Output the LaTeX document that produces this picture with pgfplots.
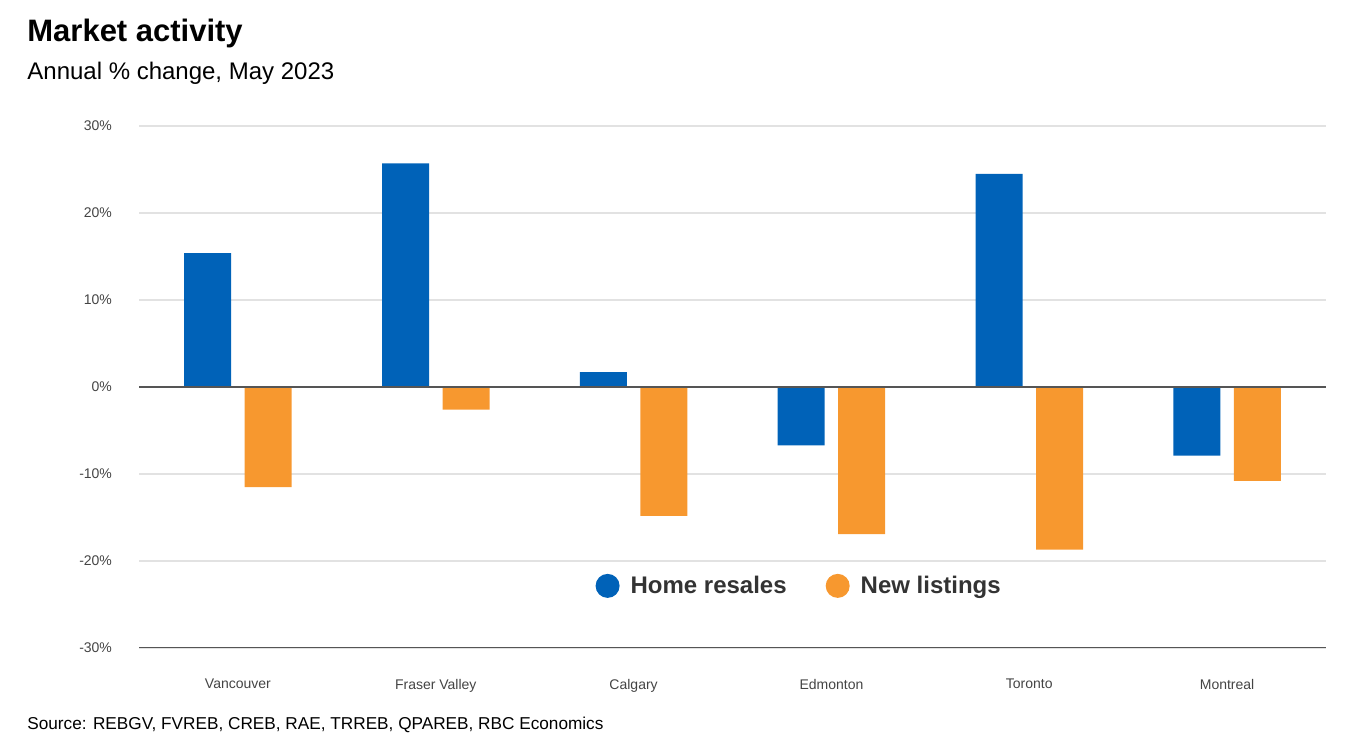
\documentclass[border=0pt]{standalone}
\usepackage{pgfplots}
\pgfplotsset{compat=1.18}
\usepackage{fontspec}
\setmainfont{Liberation Sans}
\definecolor{resale}{HTML}{0062B8}
\definecolor{listing}{HTML}{F7982F}
\definecolor{gridc}{HTML}{E2E2E2}
\definecolor{axisc}{HTML}{555555}
\definecolor{tickc}{HTML}{444444}
\definecolor{legc}{HTML}{333333}
\begin{document}
\begin{tikzpicture}
\useasboundingbox (0pt,0pt) rectangle (682pt,374.5pt);
\node[anchor=base west, font=\bfseries\fontsize{15.5}{18}\selectfont, inner sep=0pt] at (13.5pt,353.5pt) {Market activity};
\node[anchor=base west, font=\fontsize{12}{14}\selectfont, inner sep=0pt] at (13.5pt,334.5pt) {Annual \% change, May 2023};
\node[anchor=base west, font=\fontsize{8.6}{10}\selectfont, inner sep=0pt] at (13.5pt,9.5pt) {Source: REBGV, FVREB, CREB, RAE, TRREB, QPAREB, RBC Economics};
\begin{axis}[
  at={(69.5pt,50.5pt)}, anchor=south west,
  scale only axis, width=593.5pt, height=261pt,
  xmin=-0.5, xmax=5.5, ymin=-30, ymax=30,
  ybar=6.75pt, bar width=23.5pt,
  axis line style={draw=none},
  major tick length=0pt,
  xtick={0,1,2,3,4,5},
  xticklabels={Vancouver, Fraser Valley, Calgary, Edmonton, Toronto, Montreal},
  xticklabel style={font=\fontsize{7}{8}\selectfont, text=tickc, yshift=-12pt},
  ytick={-30,-20,-10,0,10,20,30},
  yticklabels={-30\%,-20\%,-10\%,0\%,10\%,20\%,30\%},
  yticklabel style={font=\fontsize{7}{8}\selectfont, text=tickc, xshift=-10pt},
  ymajorgrids, grid style={gridc, line width=0.8pt},
  legend columns=2,
  legend style={at={(rel axis cs:0.557,0.119)}, anchor=center, draw=none, fill=none,
    font=\bfseries\fontsize{12}{14}\selectfont, text=legc,
    /tikz/every even column/.append style={column sep=17.5pt}},
  legend image code/.code={\path[draw=none,fill=none] (0pt,-6pt) rectangle (15.5pt,6pt); \fill[#1] (6pt,0pt) circle (6pt);},
]
\addplot[fill=resale, draw=none] coordinates {(0,15.4) (1,25.7) (2,1.7) (3,-6.7) (4,24.5) (5,-7.9)};
\addplot[fill=listing, draw=none] coordinates {(0,-11.5) (1,-2.6) (2,-14.8) (3,-16.9) (4,-18.7) (5,-10.8)};
\legend{Home resales, New listings}
\draw[axisc, line width=1pt] (axis cs:-0.5,0) -- (axis cs:5.5,0);
\draw[axisc, line width=1pt] (axis cs:-0.5,-30) -- (axis cs:5.5,-30);
\end{axis}
\end{tikzpicture}
\end{document}
